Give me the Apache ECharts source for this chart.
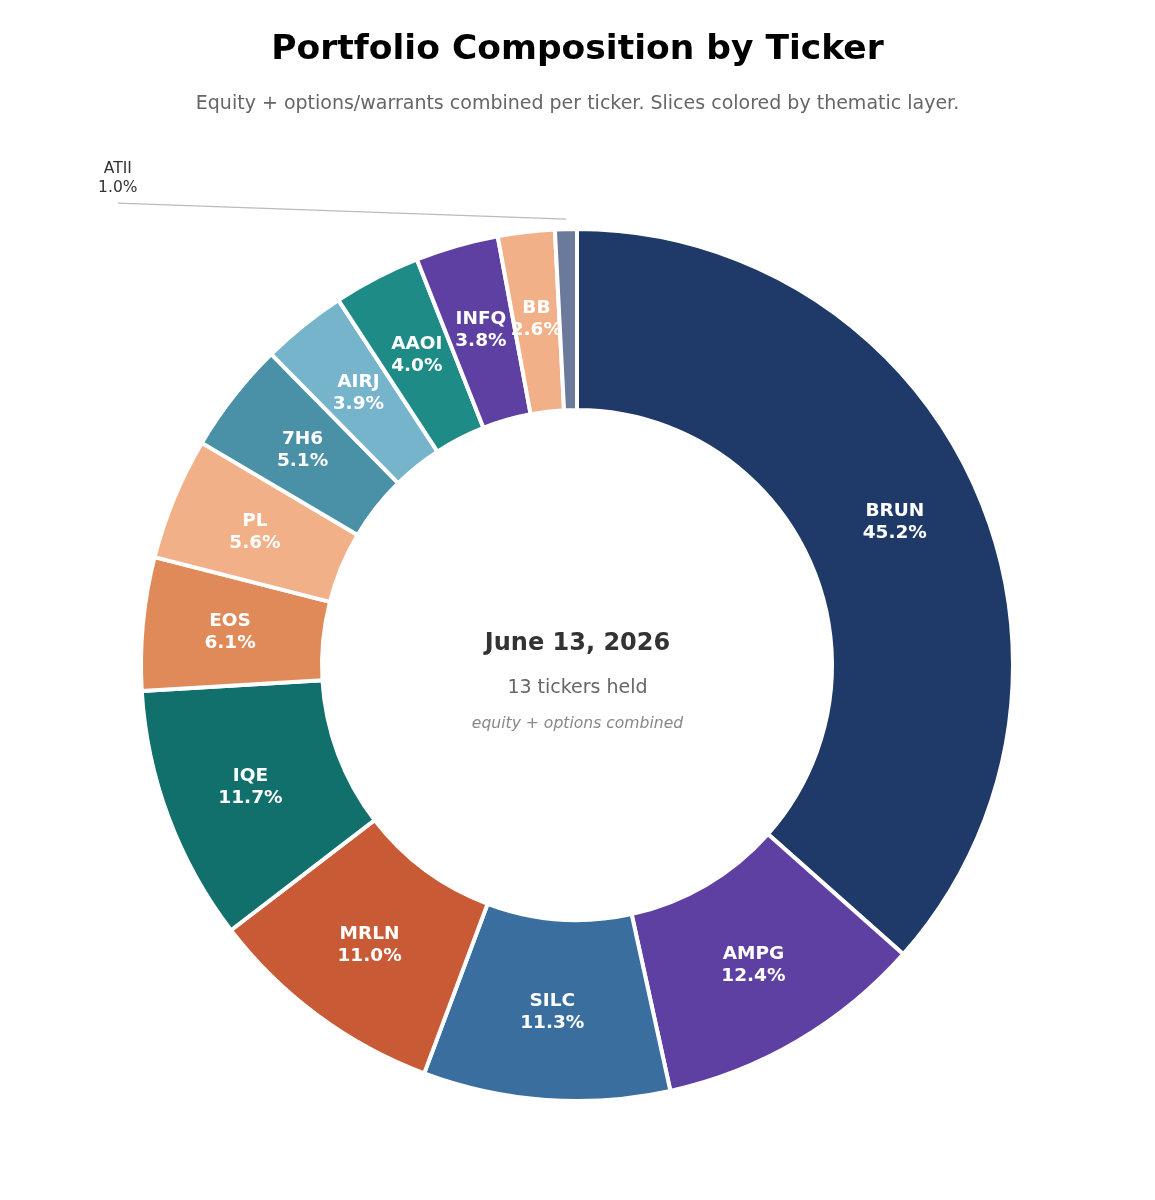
<!DOCTYPE html>
<html>
<head>
<meta charset="utf-8">
<script src="https://cdn.jsdelivr.net/npm/echarts@6/dist/echarts.min.js"></script>
<style>
html,body{margin:0;padding:0;background:#fff;}
#chart{width:1155px;height:1200px;}
</style>
</head>
<body>
<div id="chart"></div>
<script>
const tickers = ['BRUN','AMPG','SILC','MRLN','IQE','EOS','PL','7H6','AIRJ','AAOI','INFQ','BB','ATII'];
const weights = [45.2, 12.4, 11.3, 11.0, 11.7, 6.1, 5.6, 5.1, 3.9, 4.0, 3.8, 2.6, 1.0];
const colors = ['#1f3a68','#5e40a3','#3a6e9e','#c85a35','#11706b','#e08a5a','#f2b088','#4a91a8','#76b4cb','#1f8b87','#5e40a3','#f2b088','#6b7a9b'];
const outsideLabels = ['ATII'];
const titleText = 'Portfolio Composition by Ticker';
const subtitleText = 'Equity + options/warrants combined per ticker. Slices colored by thematic layer.';
const centerDate = 'June 13, 2026';
const centerCount = '13 tickers held';
const centerNote = 'equity + options combined';

const FONT = '"DejaVu Sans", sans-serif';
const chart = echarts.init(document.getElementById('chart'), null, {renderer:'canvas'});

const data = tickers.map((t, i) => {
  const item = { name: t, value: weights[i], itemStyle: { color: colors[i] } };
  if (outsideLabels.includes(t)) {
    item.label = {
      position: 'outside', color: '#333', fontWeight: 'normal', fontSize: 15.5, lineHeight: 19
    };
    item.labelLine = { show: true, lineStyle: { color: '#bbbbbb', width: 1.2 } };
  }
  return item;
});

const option = {
  backgroundColor: '#ffffff',
  animation: false,
  title: [
    { text: titleText, left: 'center', top: 28,
      textStyle: { fontFamily: FONT, fontSize: 34.5, fontWeight: 'bold', color: '#000' } },
    { text: subtitleText, left: 'center', top: 90,
      textStyle: { fontFamily: FONT, fontSize: 19, fontWeight: 'normal', color: '#666' } },
    { text: centerDate, left: 'center', top: 627,
      textStyle: { fontFamily: FONT, fontSize: 24, fontWeight: 'bold', color: '#333' } },
    { text: centerCount, left: 'center', top: 674,
      textStyle: { fontFamily: FONT, fontSize: 19, fontWeight: 'normal', color: '#666' } },
    { text: centerNote, left: 'center', top: 711,
      textStyle: { fontFamily: FONT, fontSize: 15.6, fontWeight: 'normal', fontStyle: 'italic', color: '#888' } }
  ],
  series: [{
    type: 'pie',
    center: [577, 665],
    radius: [255, 436],
    startAngle: 90,
    clockwise: true,
    avoidLabelOverlap: false,
    itemStyle: { borderColor: '#ffffff', borderWidth: 4 },
    label: {
      show: true,
      position: 'inside',
      formatter: p => p.name + '\n' + p.value.toFixed(1) + '%',
      color: '#ffffff',
      fontFamily: FONT,
      fontWeight: 'bold',
      fontSize: 18.5,
      lineHeight: 22
    },
    labelLine: { show: false },
    labelLayout: function (params) {
      const name = tickers[params.dataIndex];
      if (!outsideLabels.includes(name)) return {};
      const w = chart.getWidth(), h = chart.getHeight();
      const lx = w * 0.102, ly = h * 0.1485;
      const start = params.labelLinePoints ? params.labelLinePoints[0] : [566, 230];
      return {
        x: lx, y: ly, align: 'center', verticalAlign: 'middle',
        labelLinePoints: [[start[0], start[1] - 10], [lx, ly + 25], [lx, ly + 25]]
      };
    },
    data: data
  }]
};
chart.setOption(option);
</script>
</body>
</html>
